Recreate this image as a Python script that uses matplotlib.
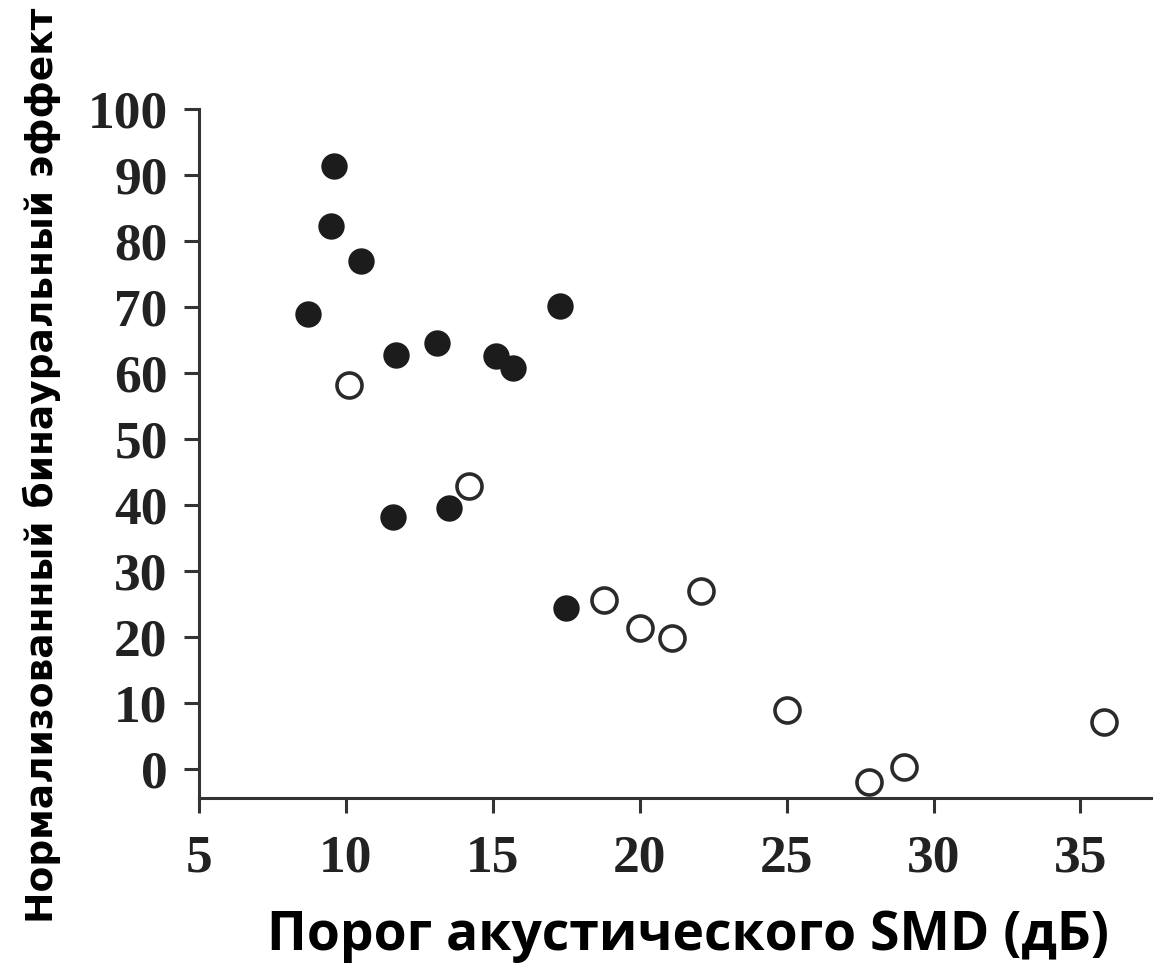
import matplotlib
matplotlib.use('Agg')
import matplotlib.pyplot as plt

# Filled circles
filled_x = [9.6, 9.5, 10.5, 8.7, 11.7, 13.1, 15.1, 15.7, 17.3, 11.6, 13.5, 17.5]
filled_y = [91.3, 82.2, 77.0, 68.9, 62.7, 64.5, 62.6, 60.7, 70.1, 38.2, 39.6, 24.4]

# Open circles
open_x = [10.1, 14.2, 18.8, 20.0, 21.1, 22.1, 25.0, 27.8, 29.0, 35.8]
open_y = [58.2, 42.9, 25.6, 21.3, 19.8, 26.9, 9.0, -1.9, 0.3, 7.1]

xticks = [5, 10, 15, 20, 25, 30, 35]
yticks = [0, 10, 20, 30, 40, 50, 60, 70, 80, 90, 100]

xlabel = 'Порог акустического SMD (дБ)'
ylabel = 'Нормализованный бинауральный эффект'

fig = plt.figure(figsize=(11.6, 9.64), dpi=100)
ax = fig.add_axes([199 / 1160, 166 / 964, 952 / 1160, 689 / 964])

ax.plot(filled_x, filled_y, 'o', color='#1c1c1c', markersize=19, markeredgewidth=0, clip_on=False)
ax.plot(open_x, open_y, 'o', markerfacecolor='white', markeredgecolor='#2a2a2a',
        markersize=18, markeredgewidth=2.6, clip_on=False)

ax.set_xlim(5, 37.4)
ax.set_ylim(-4.4, 100)
ax.set_xticks(xticks)
ax.set_yticks(yticks)

# Only left and bottom spines
for loc in ['top', 'right']:
    ax.spines[loc].set_visible(False)
for loc in ['left', 'bottom']:
    ax.spines[loc].set_linewidth(2.2)
    ax.spines[loc].set_color('#333333')

ax.tick_params(axis='both', direction='out', length=10.5, width=2.2, color='#333333')
ax.tick_params(axis='x', pad=16)
ax.tick_params(axis='y', pad=12)
for lab in ax.get_xticklabels() + ax.get_yticklabels():
    lab.set_fontfamily('Liberation Serif')
    lab.set_fontweight('bold')
    lab.set_fontsize(38.5)
    lab.set_color('#222222')

# Axis titles
fig.text(688 / 1160, 1 - 936 / 964, xlabel, ha='center', va='center',
         fontsize=38.5, fontweight='bold', family='Open Sans', color='black')
fig.text(42 / 1160, 1 - 465 / 964, ylabel, ha='center', va='center', rotation=90,
         fontsize=27, fontweight='bold', family='DejaVu Sans', color='black')

fig.savefig('out.png', dpi=100)
